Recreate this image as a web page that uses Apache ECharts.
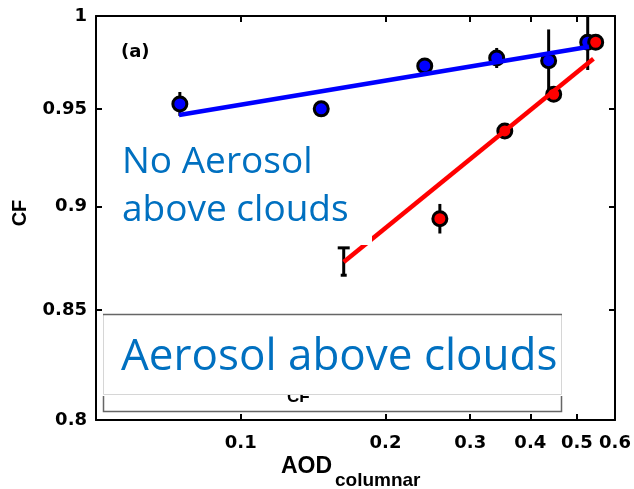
<!DOCTYPE html>
<html>
<head>
<meta charset="utf-8">
<script src="https://cdn.jsdelivr.net/npm/echarts@6/dist/echarts.min.js"></script>
<style>
html, body { margin: 0; padding: 0; background: #fff; }
#chart { width: 634px; height: 489px; }
</style>
</head>
<body>
<div id="chart"></div>
<script>
// Axis ticks (both axes logarithmic)
const xTicks = [0.1, 0.2, 0.3, 0.4, 0.5, 0.6];
const yTicks = [0.8, 0.85, 0.9, 0.95, 1];

// No aerosol above clouds (blue)
const blueX = [0.0747, 0.147, 0.2413, 0.3405, 0.4367, 0.5265];
const blueY = [0.9526, 0.950, 0.9728, 0.9771, 0.9756, 0.9856];
const blueErr = [0.0063, 0.002, 0.002, 0.0054, 0.017, 0.015];
const blueFitX = [0.0744, 0.5298];
const blueFitY = [0.9468, 0.9832];

// Aerosol above clouds (red); the first bin has no marker drawn
const redX = [0.1637, 0.2594, 0.354, 0.4474, 0.547];
const redY = [0.8732, 0.8941, 0.9385, 0.9577, 0.9856];
const redErr = [0.0066, 0.0073, 0.002, 0.002, 0.002];
const redFitX = [0.1637, 0.5412];
const redFitY = [0.873, 0.9767];

const fmt = v => String(+(+v).toFixed(2));
const tickFont = { fontFamily: 'DejaVu Sans', fontWeight: 'bold', fontSize: 18, color: '#000' };

function errData(xs, ys, es, capFirst) {
  return xs.map((x, i) => [x, ys[i] - es[i], ys[i] + es[i], capFirst && i === 0 ? 1 : 0]);
}

function renderErr(params, api) {
  const x = api.value(0);
  const lo = api.coord([x, api.value(1)]);
  const hi = api.coord([x, api.value(2)]);
  const st = { stroke: '#000', lineWidth: 3 };
  const children = [{ type: 'line', shape: { x1: hi[0], y1: hi[1], x2: lo[0], y2: lo[1] }, style: st }];
  if (api.value(3)) {
    children.push({ type: 'line', shape: { x1: hi[0] - 6, y1: hi[1], x2: hi[0] + 6, y2: hi[1] }, style: st });
    children.push({ type: 'line', shape: { x1: lo[0] - 3, y1: lo[1], x2: lo[0] + 3, y2: lo[1] }, style: st });
  }
  return { type: 'group', children };
}

const axisLineStyle = { lineStyle: { color: '#000', width: 2 } };

const chart = echarts.init(document.getElementById('chart'), null, { renderer: 'canvas' });
chart.setOption({
  animation: false,
  backgroundColor: '#fff',
  grid: { left: 96, right: 19, top: 16, bottom: 69 },
  xAxis: [
    {
      type: 'log', min: 0.05, max: 0.6, position: 'bottom',
      axisLine: Object.assign({ onZero: false }, axisLineStyle),
      axisTick: { inside: true, length: 6, lineStyle: { color: '#000', width: 2 }, customValues: xTicks },
      axisLabel: Object.assign({ margin: 14, formatter: fmt, customValues: xTicks }, tickFont),
      splitLine: { show: false }, minorTick: { show: false }
    },
    {
      type: 'log', min: 0.05, max: 0.6, position: 'top',
      axisLine: Object.assign({ onZero: false }, axisLineStyle),
      axisTick: { inside: true, length: 6, lineStyle: { color: '#000', width: 2 }, customValues: xTicks },
      axisLabel: { show: false },
      splitLine: { show: false }
    }
  ],
  yAxis: [
    {
      type: 'log', min: 0.8, max: 1, position: 'left',
      axisLine: Object.assign({ onZero: false }, axisLineStyle),
      axisTick: { inside: true, length: 6, lineStyle: { color: '#000', width: 2 }, customValues: yTicks },
      axisLabel: Object.assign({ margin: 9, formatter: fmt, customValues: yTicks }, tickFont),
      splitLine: { show: false }
    },
    {
      type: 'log', min: 0.8, max: 1, position: 'right',
      axisLine: Object.assign({ onZero: false }, axisLineStyle),
      axisTick: { inside: true, length: 6, lineStyle: { color: '#000', width: 2 }, customValues: yTicks },
      axisLabel: { show: false },
      splitLine: { show: false }
    }
  ],
  series: [
    {
      type: 'custom', z: 1, renderItem: renderErr, clip: true,
      data: errData(blueX, blueY, blueErr, false)
    },
    {
      type: 'custom', z: 1, renderItem: renderErr, clip: true,
      data: errData(redX, redY, redErr, true)
    },
    {
      type: 'scatter', z: 2,
      symbol: 'circle', symbolSize: 14,
      itemStyle: { color: '#0000ff', borderColor: '#000', borderWidth: 3, opacity: 1 },
      data: blueX.map((x, i) => [x, blueY[i]])
    },
    {
      type: 'scatter', z: 2,
      symbol: 'circle', symbolSize: 14,
      itemStyle: { color: '#ff0000', borderColor: '#000', borderWidth: 3, opacity: 1 },
      data: redX.map((x, i) => i === 0 ? { value: [x, redY[i]], symbol: 'none' } : [x, redY[i]])
    },
    {
      type: 'line', z: 4, symbol: 'none',
      lineStyle: { color: '#0000ff', width: 4.5 },
      data: blueFitX.map((x, i) => [x, blueFitY[i]])
    },
    {
      type: 'line', z: 4, symbol: 'none',
      lineStyle: { color: '#ff0000', width: 4.5 },
      data: redFitX.map((x, i) => [x, redFitY[i]])
    }
  ],
  graphic: [
    // panel tag
    { type: 'text', z: 50, x: 121, y: 52, style: { text: '(a)', font: 'bold 18px "DejaVu Sans"', fill: '#000', align: 'left', verticalAlign: 'middle' } },
    // axis titles
    { type: 'text', z: 50, x: 20, y: 213, rotation: Math.PI / 2, style: { text: 'CF', font: 'bold 20px "Liberation Sans"', fill: '#000', align: 'center', verticalAlign: 'middle' } },
    { type: 'text', z: 50, x: 281, y: 467, style: { text: 'AOD', font: 'bold 23px "Liberation Sans"', fill: '#000', align: 'left', verticalAlign: 'middle' } },
    { type: 'text', z: 50, x: 335, y: 481, style: { text: 'columnar', font: 'bold 19px "Liberation Sans"', fill: '#000', align: 'left', verticalAlign: 'middle' } },
    // label for the clear-sky group
    { type: 'rect', z: 40, shape: { x: 108, y: 138, width: 264, height: 107 }, style: { fill: '#fff' } },
    { type: 'text', z: 41, x: 122, y: 162, style: { text: 'No Aerosol', font: '37px "Open Sans"', fill: '#0070C0', align: 'left', verticalAlign: 'middle' } },
    { type: 'text', z: 41, x: 122, y: 210, style: { text: 'above clouds', font: '37px "Open Sans"', fill: '#0070C0', align: 'left', verticalAlign: 'middle' } },
    // label box for the aerosol-above-cloud group
    { type: 'rect', z: 40, shape: { x: 103, y: 314, width: 459, height: 98 }, style: { fill: '#fff', stroke: null } },
    { type: 'text', z: 41, x: 287, y: 397, style: { text: 'CF', font: 'bold 17px "Liberation Sans"', fill: '#000', align: 'left', verticalAlign: 'middle' } },
    { type: 'rect', z: 42, shape: { x: 103.5, y: 314.5, width: 458, height: 80 }, style: { fill: '#fff', stroke: '#d6d6d6', lineWidth: 1 } },
    { type: 'polyline', z: 43, shape: { points: [[103.5, 396], [103.5, 411.5], [561.5, 411.5], [561.5, 396]] }, style: { stroke: '#666', lineWidth: 1.5, fill: null } },
    { type: 'line', z: 43, shape: { x1: 103, y1: 314.5, x2: 562, y2: 314.5 }, style: { stroke: '#666', lineWidth: 1.5 } },
    { type: 'text', z: 44, x: 121, y: 357, style: { text: 'Aerosol above clouds', font: '44px "Open Sans"', fill: '#0070C0', align: 'left', verticalAlign: 'middle' } }
  ]
});
</script>
</body>
</html>
